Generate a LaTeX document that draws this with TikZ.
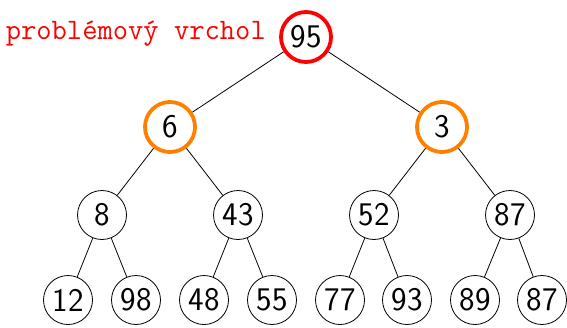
\documentclass[tikz,border=0pt]{standalone}
\begin{document}
\begin{tikzpicture}[x=1pt,y=-1pt,
  vertex/.style={circle,draw,line width=0.8pt,minimum size=49pt,inner sep=0pt,font=\sffamily\fontsize{33}{38}\selectfont},
  bad/.style={vertex,draw=red,line width=3.8pt,minimum size=50pt},
  warn/.style={vertex,draw=orange,line width=3.8pt,minimum size=50pt},
  edge/.style={line width=0.8pt}]
\useasboundingbox (0,0) rectangle (567,327);
\node[bad] (r) at (306,37) {95};
\node[text=red,font=\ttfamily\fontsize{29.7}{34}\selectfont,anchor=east,inner sep=0pt] (lab) at (266,34) {problémový vrchol};
\node[warn] (a) at (170,127) {6};
\node[warn] (b) at (442,127) {3};
\node[vertex] (a1) at (102,215) {8};
\node[vertex] (a2) at (238,215) {43};
\node[vertex] (b1) at (374,215) {52};
\node[vertex] (b2) at (510,215) {87};
\node[vertex] (l1) at (68,300) {12};
\node[vertex] (l2) at (136,300) {98};
\node[vertex] (l3) at (204,300) {48};
\node[vertex] (l4) at (272,300) {55};
\node[vertex] (l5) at (340,300) {77};
\node[vertex] (l6) at (407,300) {93};
\node[vertex] (l7) at (475,300) {89};
\node[vertex] (l8) at (542,300) {87};
\draw[edge] (r) -- (a); \draw[edge] (r) -- (b);
\draw[edge] (a) -- (a1); \draw[edge] (a) -- (a2);
\draw[edge] (b) -- (b1); \draw[edge] (b) -- (b2);
\draw[edge] (a1) -- (l1); \draw[edge] (a1) -- (l2);
\draw[edge] (a2) -- (l3); \draw[edge] (a2) -- (l4);
\draw[edge] (b1) -- (l5); \draw[edge] (b1) -- (l6);
\draw[edge] (b2) -- (l7); \draw[edge] (b2) -- (l8);
\end{tikzpicture}
\end{document}
